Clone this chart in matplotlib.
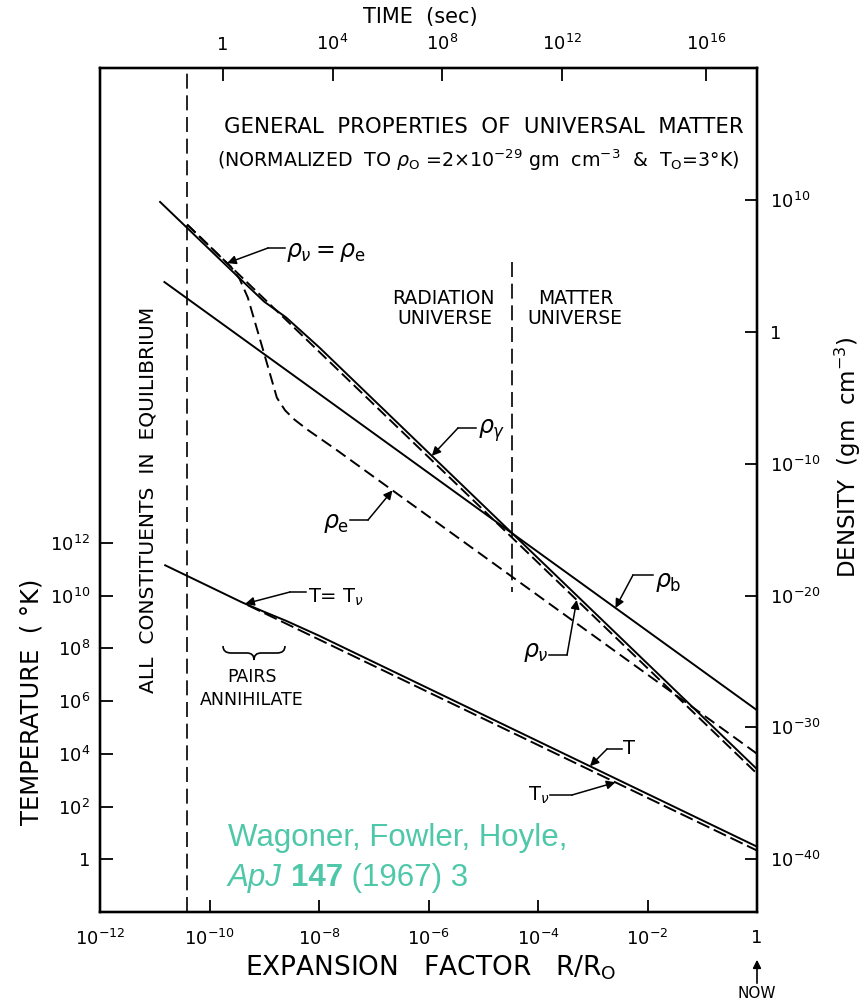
import numpy as np
import matplotlib
matplotlib.use('Agg')
import matplotlib.pyplot as plt
from matplotlib.lines import Line2D
from matplotlib.path import Path
from matplotlib.patches import PathPatch, FancyArrowPatch

W, H = 863, 1000

# curves: expansion factor R/R0 vs density / temperature
r_gamma = [1.25e-11, 4e-10, 1e-9, 2.5e-9, 1e-8, 1.0]
rho_gamma = [7e9, 7e3, 1.9e2, 12.3, 6.8e-2, 6.8e-34]

r_nu = [3.9e-11, 1.0]
rho_nu = [1.35e8, 3.1e-34]

r_e = [3.9e-11, 2.5e-10, 3.55e-10, 5e-10, 9.55e-10, 1.7e-9, 2.4e-9, 3.55e-9, 6.3e-9, 2e-8, 1.0]
rho_e = [1.35e8, 7.8e4, 1e4, 4e2, 4e-2, 1e-5, 1.1e-6, 2.2e-7, 3.5e-8, 1.25e-9, 1e-32]

r_b = [1.5e-11, 1.0]
rho_b = [5.9e3, 2e-29]

r_T = [1.55e-11, 4e-10, 1e-9, 2.5e-9, 1e-8, 1.0]
temp = [1.4e11, 5.4e9, 2.4e9, 1.1e9, 3e8, 3.0]

r_Tnu = [5e-10, 1.0]
temp_nu = [4.3e9, 2.14]

r_equilibrium = 3.9e-11      # all constituents in equilibrium boundary
r_equality = 3.4e-5          # radiation / matter universe
equality_rho = [2e5, 2e-20]

x_ticks = [1e-12, 1e-10, 1e-8, 1e-6, 1e-4, 1e-2, 1]
x_labels = ['$10^{-12}$', '$10^{-10}$', '$10^{-8}$', '$10^{-6}$', '$10^{-4}$', '$10^{-2}$', '1']
t_ticks = [1, 1e2, 1e4, 1e6, 1e8, 1e10, 1e12]
t_labels = ['1', '$10^{2}$', '$10^{4}$', '$10^{6}$', '$10^{8}$', '$10^{10}$', '$10^{12}$']
rho_ticks = [1e-40, 1e-30, 1e-20, 1e-10, 1, 1e10]
rho_labels = ['$10^{-40}$', '$10^{-30}$', '$10^{-20}$', '$10^{-10}$', '1', '$10^{10}$']
time_ticks = [1, 1e4, 1e8, 1e12, 1e16]
time_labels = ['1', '$10^{4}$', '$10^{8}$', '$10^{12}$', '$10^{16}$']
r_one_second = 1.77e-10


def time_shape(r):
    x = np.asarray(r) / r_equality
    s = np.sqrt(1 + x)
    return (x / (s + 1)) ** 2 * (s + 2)


grid = np.logspace(-12, 0, 4000)
tt = time_shape(grid) / time_shape(r_one_second)
r_time = 10 ** np.interp(np.log10(time_ticks), np.log10(tt), np.log10(grid))

plt.rcParams['font.family'] = ['DejaVu Sans']


def fp(x, y):
    return (x / W, 1 - y / H)


fig = plt.figure(figsize=(W / 100, H / 100), dpi=100)
fig.patch.set_facecolor('white')

ax = fig.add_axes([100 / W, 1 - 912 / H, 657 / W, 844 / H])
ax.set_xscale('log')
ax.set_yscale('log')
ax.set_xlim(1e-12, 1)
ax.set_ylim(1e-2, 1e30)

axr = ax.twinx()
axr.set_yscale('log')
axr.set_ylim(1e-44, 1e20)
axt = ax.twiny()
axt.set_xscale('log')
axt.set_xlim(1e-12, 1)

lw = 1.4
axr.plot(r_gamma, rho_gamma, color='black', lw=lw)
axr.plot(r_nu, rho_nu, color='black', lw=lw, ls=(0, (6, 2.5)))
axr.plot(r_e, rho_e, color='black', lw=lw, ls=(0, (6, 3)))
axr.plot(r_b, rho_b, color='black', lw=lw)
ax.plot(r_T, temp, color='black', lw=lw)
ax.plot(r_Tnu, temp_nu, color='black', lw=lw, ls=(0, (7, 2.5)))

ax.axvline(r_equilibrium, color='black', lw=1.2, ls=(0, (9, 4)))
axr.plot([r_equality, r_equality], equality_rho, color='black', lw=1.2, ls=(0, (9, 4)))

for a in (ax, axr, axt):
    for s in a.spines.values():
        s.set_linewidth(1.6)

ax.set_xticks(x_ticks)
ax.set_xticklabels(x_labels)
ax.set_yticks(t_ticks)
ax.set_yticklabels(t_labels)
axr.set_yticks(rho_ticks)
axr.set_yticklabels(rho_labels)
axt.set_xticks(r_time)
axt.set_xticklabels(time_labels)
ax.tick_params(axis='x', direction='in', length=9, width=1.3, labelsize=13, pad=12)
ax.tick_params(axis='y', direction='in', length=9, width=1.3, labelsize=13, pad=7)
axr.tick_params(axis='y', direction='in', length=9, width=1.3, labelsize=13, pad=9)
axt.tick_params(axis='x', direction='in', length=9, width=1.3, labelsize=13, pad=10)
for a in (ax, axr, axt):
    a.minorticks_off()

# texts
fig.text(*fp(420, 17), 'TIME  (sec)', fontsize=15, ha='center', va='center')
fig.text(*fp(484, 127), 'GENERAL  PROPERTIES  OF  UNIVERSAL  MATTER', fontsize=15.3,
         ha='center', va='center')
fig.text(*fp(478, 160), r'(NORMALIZED  TO $\rho_{\rm O}$ =2$\times$10$^{-29}$ gm  cm$^{-3}$  &  T$_{\rm O}$=3°K)',
         fontsize=13.7, ha='center', va='center')
fig.text(*fp(148, 500), 'ALL  CONSTITUENTS  IN  EQUILIBRIUM', fontsize=14.6, rotation=90,
         ha='center', va='center')
fig.text(*fp(32, 702), 'TEMPERATURE  ( °K)', fontsize=17.5, rotation=90, ha='center', va='center')
fig.text(*fp(848, 457), r'DENSITY  (gm  cm$^{-3}$)', fontsize=16.5, rotation=90, ha='center', va='center')
fig.text(*fp(431, 968), r'EXPANSION   FACTOR   R/R$_{\rm O}$', fontsize=19, ha='center', va='center')
fig.text(*fp(757, 993), 'NOW', fontsize=11, ha='center', va='center')
fig.add_artist(FancyArrowPatch(fp(757, 986), fp(757, 957), transform=fig.transFigure,
                               arrowstyle='-|>', mutation_scale=12, color='black', lw=1.2))
fig.text(*fp(443, 298), 'RADIATION', fontsize=13.5, ha='center', va='center')
fig.text(*fp(445, 318), 'UNIVERSE', fontsize=13.5, ha='center', va='center')
fig.text(*fp(576, 298), 'MATTER', fontsize=13.5, ha='center', va='center')
fig.text(*fp(575, 318), 'UNIVERSE', fontsize=13.5, ha='center', va='center')
fig.text(*fp(252, 677), 'PAIRS', fontsize=12.5, ha='center', va='center')
fig.text(*fp(252, 700), 'ANNIHILATE', fontsize=12.5, ha='center', va='center')

# brace over "pairs annihilate"
x0, x1, ym = 223, 285, 653
xm = (x0 + x1) / 2
pts = [fp(x0, 646), fp(x0, ym), fp(x0 + 8, ym), fp(xm - 7, ym), fp(xm, ym), fp(xm, 660),
       fp(xm, ym), fp(xm + 7, ym), fp(x1 - 8, ym), fp(x1, ym), fp(x1, 646)]
codes = [Path.MOVETO, Path.CURVE3, Path.CURVE3, Path.LINETO, Path.CURVE3, Path.CURVE3,
         Path.CURVE3, Path.CURVE3, Path.LINETO, Path.CURVE3, Path.CURVE3]
fig.add_artist(PathPatch(Path(pts, codes), transform=fig.transFigure, fill=False, lw=1.2))


def on_curve(r, rs, vs):
    return 10 ** np.interp(np.log10(r), np.log10(rs), np.log10(vs))


def pointer(axis, label, text_xy, ha, seg, target_r, rs, vs, size=15):
    fig.text(*fp(*text_xy), label, fontsize=size, ha=ha, va='center')
    (sx, sy), (ex, ey) = seg
    fig.add_artist(Line2D([sx / W, ex / W], [1 - sy / H, 1 - ey / H], transform=fig.transFigure,
                          color='black', lw=1.1))
    axis.annotate('', xy=(target_r, on_curve(target_r, rs, vs)), xycoords='data',
                  xytext=fp(ex, ey), textcoords='figure fraction',
                  arrowprops=dict(arrowstyle='-|>', color='black', lw=1.1, mutation_scale=13,
                                  shrinkA=0, shrinkB=0))


pointer(axr, r'$\rho_\nu = \rho_{\rm e}$', (286, 252), 'left', ((285, 248), (268, 248)),
        2.1e-10, r_nu, rho_nu, size=17)
pointer(axr, r'$\rho_\gamma$', (478, 431), 'left', ((476, 428), (458, 428)),
        1.15e-6, r_gamma, rho_gamma, size=17)
pointer(axr, r'$\rho_{\rm e}$', (349, 523), 'right', ((350, 520), (368, 520)),
        2.2e-7, r_e, rho_e, size=17)
pointer(ax, r'T= T$_\nu$', (308, 597), 'left', ((306, 592), (290, 592)),
        4.5e-10, r_T, temp, size=14)
pointer(axr, r'$\rho_{\rm b}$', (655, 582), 'left', ((653, 575), (633, 575)),
        2.6e-3, r_b, rho_b, size=17)
pointer(axr, r'$\rho_\nu$', (549, 652), 'right', ((549, 655), (567, 655)),
        5.1e-4, r_nu, rho_nu, size=17)
pointer(ax, 'T', (623, 749), 'left', ((622, 749), (607, 749)),
        8.9e-4, r_T, temp, size=14)
pointer(ax, r'T$_\nu$', (549, 795), 'right', ((550, 795), (572, 795)),
        2.6e-3, r_Tnu, temp_nu, size=14)

# citation
teal = '#4fc7a9'
fig.text(*fp(228, 838), 'Wagoner, Fowler, Hoyle,', fontsize=22.5, color=teal,
         family='Liberation Sans', ha='left', va='center')
renderer = fig.canvas.get_renderer()
x = 228 / W
for piece, style, weight in [('ApJ ', 'italic', 'normal'), ('147', 'normal', 'bold'),
                             (' (1967) 3', 'normal', 'normal')]:
    t = fig.text(x, 1 - 878 / H, piece, fontsize=22.5, color=teal, family='Liberation Sans',
                 style=style, weight=weight, ha='left', va='center')
    bb = t.get_window_extent(renderer)
    x = bb.x1 / W

fig.savefig('out.png', dpi=100)
